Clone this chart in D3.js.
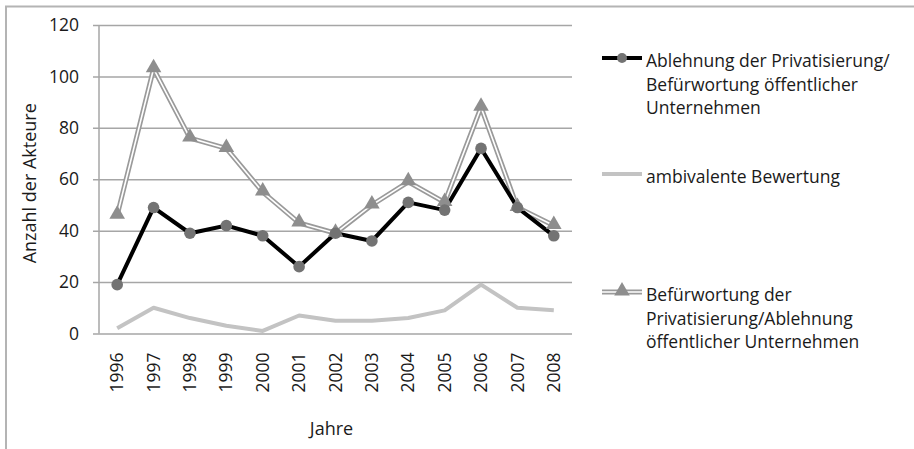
<!DOCTYPE html>
<html>
<head>
<meta charset="utf-8">
<script src="https://cdn.jsdelivr.net/npm/d3@7"></script>
<style>
  body { margin: 0; background: #fff; }
  svg { display: block; font-family: 'Open Sans', sans-serif; }
</style>
</head>
<body>
<svg id="chart" width="914" height="449"></svg>
<script>
const years = ['1996', '1997', '1998', '1999', '2000', '2001', '2002',
  '2003', '2004', '2005', '2006', '2007', '2008'];
const ablehnung = [19, 49, 39, 42, 38, 26, 39, 36, 51, 48, 72, 49, 38];
const ambivalent = [2, 10, 6, 3, 1, 7, 5, 5, 6, 9, 19, 10, 9];
const befuerwortung = [46, 103, 76, 72, 55, 43, 39, 50, 59, 51, 88, 49, 42];
const yTicks = [0, 20, 40, 60, 80, 100, 120];

const legendLabels = [
  ['Ablehnung der Privatisierung/', 'Befürwortung öffentlicher', 'Unternehmen'],
  ['ambivalente Bewertung'],
  ['Befürwortung der', 'Privatisierung/Ablehnung', 'öffentlicher Unternehmen'],
];

const svg = d3.select('#chart');
const plotL = 99, plotR = 572, plotT = 25, plotB = 333.5;
const fontSize = 17.5;

const x = d3.scaleBand().domain(years).range([plotL, plotR]);
const y = d3.scaleLinear().domain([0, 120]).range([plotB, plotT]);
const cx = (d, i) => x(years[i]) + x.bandwidth() / 2;

// outer frame (only top and left edges visible)
svg.append('path')
  .attr('d', 'M6,449V6.5H914')
  .attr('fill', 'none')
  .attr('stroke', '#b4b4b4')
  .attr('stroke-width', 2);

// grid + y axis ticks
const yAxis = d3.axisLeft(y).tickValues(yTicks).tickSize(-(plotR - plotL)).tickPadding(20);
const gy = svg.append('g').attr('transform', `translate(${plotL},0)`).call(yAxis);
gy.select('.domain').remove();
gy.selectAll('.tick line')
  .attr('x1', -6)
  .attr('stroke', '#a6a6a6')
  .attr('stroke-width', 1.5);
gy.selectAll('.tick text')
  .attr('font-size', fontSize)
  .attr('fill', '#1a1a1a')
  .attr('font-family', "'Open Sans', sans-serif");

// vertical axis line
svg.append('line')
  .attr('x1', plotL).attr('x2', plotL)
  .attr('y1', plotT).attr('y2', plotB)
  .attr('stroke', '#a6a6a6').attr('stroke-width', 1.5);

// x axis labels
const xAxis = d3.axisBottom(x).tickSize(0).tickPadding(0);
const gx = svg.append('g').attr('transform', `translate(0,${plotB})`).call(xAxis);
gx.select('.domain').remove();
gx.selectAll('.tick text')
  .attr('font-size', fontSize)
  .attr('fill', '#1a1a1a')
  .attr('font-family', "'Open Sans', sans-serif")
  .attr('text-anchor', 'end')
  .attr('dy', '0.35em')
  .attr('transform', 'translate(0,19) rotate(-90)');

// axis titles
svg.append('text')
  .attr('transform', `translate(36,${(plotT + plotB) / 2 + 4}) rotate(-90)`)
  .attr('text-anchor', 'middle')
  .attr('font-size', 18)
  .attr('fill', '#1a1a1a')
  .text('Anzahl der Akteure');
svg.append('text')
  .attr('x', (plotL + plotR) / 2 - 4)
  .attr('y', 435)
  .attr('text-anchor', 'middle')
  .attr('font-size', 18)
  .attr('fill', '#1a1a1a')
  .text('Jahre');

const line = d3.line().x(cx).y(d => y(d));

// ambivalent series
svg.append('path')
  .attr('d', line(ambivalent))
  .attr('fill', 'none')
  .attr('stroke', '#c3c3c3')
  .attr('stroke-width', 4)
  .attr('stroke-linejoin', 'round');

// befuerwortung: double line
svg.append('path')
  .attr('d', line(befuerwortung))
  .attr('fill', 'none')
  .attr('stroke', '#9a9a9a')
  .attr('stroke-width', 5);
svg.append('path')
  .attr('d', line(befuerwortung))
  .attr('fill', 'none')
  .attr('stroke', '#fff')
  .attr('stroke-width', 1.6);

// ablehnung
svg.append('path')
  .attr('d', line(ablehnung))
  .attr('fill', 'none')
  .attr('stroke', '#000')
  .attr('stroke-width', 4);

const tri = d3.symbol().type(d3.symbolTriangle).size(105);
svg.append('g').selectAll('path')
  .data(befuerwortung)
  .join('path')
  .attr('d', tri)
  .attr('transform', (d, i) => `translate(${cx(d, i)},${y(d) - 1})`)
  .attr('fill', '#8e8e8e');

svg.append('g').selectAll('circle')
  .data(ablehnung)
  .join('circle')
  .attr('cx', cx)
  .attr('cy', d => y(d))
  .attr('r', 5.8)
  .attr('fill', '#737373');

// legend
const lx1 = 602, lx2 = 642, tx = 646;
const legendY = [58, 174, 292];
const lineH = 23.5;

// entry 1
svg.append('line').attr('x1', lx1).attr('x2', lx2).attr('y1', legendY[0]).attr('y2', legendY[0])
  .attr('stroke', '#000').attr('stroke-width', 4);
svg.append('circle').attr('cx', (lx1 + lx2) / 2).attr('cy', legendY[0]).attr('r', 5).attr('fill', '#737373');
// entry 2
svg.append('line').attr('x1', lx1).attr('x2', lx2).attr('y1', legendY[1]).attr('y2', legendY[1])
  .attr('stroke', '#c3c3c3').attr('stroke-width', 4);
// entry 3
svg.append('line').attr('x1', lx1).attr('x2', lx2).attr('y1', legendY[2]).attr('y2', legendY[2])
  .attr('stroke', '#9a9a9a').attr('stroke-width', 5);
svg.append('line').attr('x1', lx1).attr('x2', lx2).attr('y1', legendY[2]).attr('y2', legendY[2])
  .attr('stroke', '#fff').attr('stroke-width', 1.6);
svg.append('path').attr('d', tri).attr('transform', `translate(${(lx1 + lx2) / 2},${legendY[2] - 1})`)
  .attr('fill', '#8e8e8e');

legendLabels.forEach((lines, k) => {
  const t = svg.append('text')
    .attr('x', tx)
    .attr('y', legendY[k] + 3)
    .attr('font-size', fontSize)
    .attr('fill', '#1a1a1a');
  lines.forEach((s, j) => {
    t.append('tspan')
      .attr('x', tx)
      .attr('dy', j === 0 ? '0.35em' : lineH)
      .text(s);
  });
});
</script>
</body>
</html>
